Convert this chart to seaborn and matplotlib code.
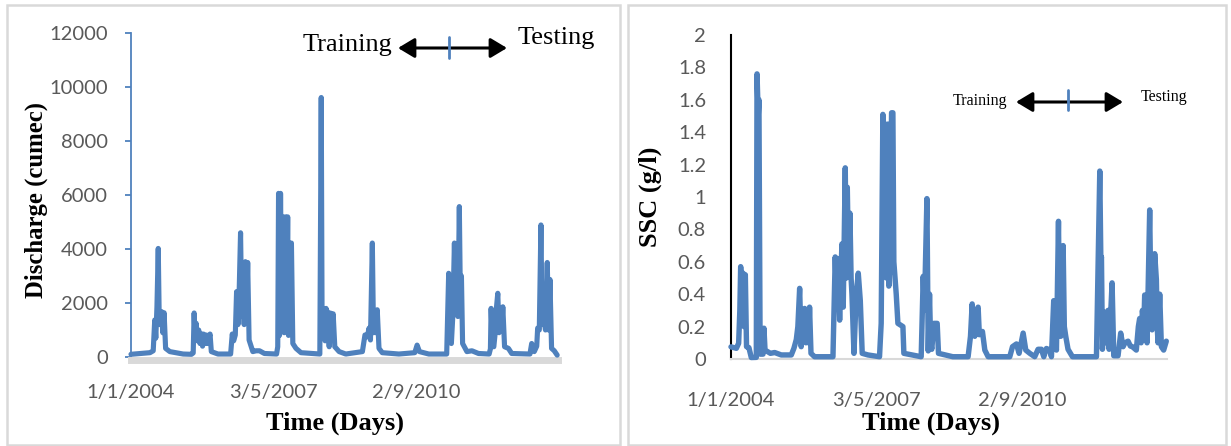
import numpy as np
import pandas as pd
import matplotlib
matplotlib.use("Agg")
import matplotlib.pyplot as plt
import seaborn as sns
from matplotlib.patches import Rectangle, FancyArrowPatch, ArrowStyle
from matplotlib.lines import Line2D

START = pd.Timestamp("2004-01-01")
END = pd.Timestamp("2013-12-31")

# Daily discharge (cumec): day offset from 1 Jan 2004 and value at that day
q_day = [0, 162, 190, 203, 212, 222, 233, 242, 252, 262, 272, 283, 296, 332, 446,
         517, 532, 540, 548, 557, 568, 579, 590, 604, 612, 620, 635, 645, 655, 676,
         687, 744, 852, 866, 878, 892, 903, 915, 925, 937, 947, 957, 968, 978, 988,
         998, 1010, 1042, 1070, 1099, 1141, 1245, 1255, 1262, 1270, 1279, 1288, 1300,
         1310, 1322, 1330, 1340, 1347, 1356, 1364, 1372, 1384, 1411, 1454, 1615, 1627,
         1634, 1648, 1660, 1668, 1682, 1695, 1705, 1716, 1729, 1743, 1780, 1837, 1979,
         2001, 2021, 2036, 2048, 2064, 2074, 2081, 2092, 2106, 2121, 2149, 2291, 2427,
         2447, 2467, 2547, 2700, 2717, 2728, 2740, 2752, 2766, 2776, 2786, 2796, 2808,
         2818, 2826, 2836, 2873, 2916, 2972, 3063, 3074, 3080, 3092, 3103, 3115, 3125,
         3137, 3148, 3160, 3170, 3180, 3195, 3228, 3256, 3412, 3427, 3449, 3470, 3478,
         3492, 3506, 3516, 3530, 3545, 3560, 3572, 3583, 3597, 3620, 3645]
q_val = [100, 160, 230, 1370, 700, 1860, 4020, 1200, 1500, 1680, 900, 1640, 320, 200, 110,
         100, 150, 1630, 700, 1250, 600, 1000, 500, 850, 400, 850, 500, 815, 500, 850,
         200, 110, 110, 850, 600, 815, 2420, 1200, 2400, 4600, 1500, 2800, 1200, 3530, 1500,
         3500, 630, 200, 230, 230, 130, 110, 380, 6060, 800, 6060, 1500, 5190,
         900, 5190, 1200, 5190, 800, 4220, 900, 4220, 500, 320, 160, 110, 9610,
         1500, 1800, 600, 1800, 1630, 380, 1630, 800, 1600, 380, 200, 110, 200,
         815, 750, 1070, 630, 4220, 900, 1370, 900, 1750, 320, 160, 110, 160,
         440, 200, 110, 110, 3100, 600, 500, 1500, 4220, 1800, 2620, 1500, 5570,
         1800, 3000, 500, 200, 230, 130, 110, 300, 1800, 400, 380, 900, 1800,
         2360, 900, 1370, 1000, 1860, 380, 320, 130, 110, 500, 200, 400, 1070,
         1000, 4890, 1200, 1500, 1000, 3500, 1000, 2870, 320, 230, 70]

# Suspended sediment concentration (g/l): day offset from 1 Jan 2004 and value
ssc_day = [0, 45, 64, 74, 81, 92, 101, 109, 120, 130, 150, 170, 212, 218, 228, 234, 244,
           268, 276, 285, 330, 366, 421, 505, 527, 547, 560, 575, 588, 600, 617, 628,
           639, 650, 658, 670, 700, 854, 873, 885, 896, 910, 929, 940, 957, 966, 974,
           984, 996, 1006, 1013, 1030, 1049, 1066, 1083, 1099, 1147, 1244, 1258, 1272,
           1282, 1292, 1302, 1314, 1322, 1331, 1345, 1356, 1364, 1374, 1384, 1398, 1440,
           1448, 1593, 1610, 1620, 1641, 1652, 1663, 1672, 1682, 1699, 1727, 1738, 1858,
           1986, 2006, 2020, 2030, 2042, 2055, 2070, 2080, 2090, 2106, 2126, 2154, 2335,
           2358, 2391, 2413, 2447, 2469, 2503, 2544, 2572, 2600, 2620, 2642, 2670, 2684,
           2703, 2715, 2726, 2743, 2752, 2762, 2772, 2782, 2792, 2804, 2823, 2860, 3061,
           3089, 3098, 3103, 3111, 3125, 3140, 3158, 3167, 3192, 3206, 3242, 3264, 3284,
           3300, 3326, 3345, 3362, 3395, 3412, 3423, 3435, 3446, 3458, 3465, 3485, 3507,
           3518, 3527, 3540, 3549, 3563, 3570, 3577, 3591, 3605, 3624, 3646]
ssc_val = [0.075, 0.066, 0.097, 0.3, 0.57, 0.4, 0.53, 0.2, 0.52, 0.076, 0.07, 0.009, 0.01,
           1.76, 1.5, 1.6, 0.03, 0.03, 0.19, 0.055, 0.035, 0.04, 0.025, 0.025, 0.066, 0.12,
           0.2, 0.436, 0.076, 0.2, 0.312, 0.1, 0.28, 0.1, 0.32, 0.035, 0.014, 0.014, 0.63,
           0.36, 0.62, 0.24, 0.71, 0.32, 1.18, 0.5, 1.06, 0.6, 0.9, 0.5, 0.4, 0.035, 0.4,
           0.53, 0.36, 0.035, 0.025, 0.014, 0.22, 1.51, 0.55, 1.45, 0.5, 1.45, 0.45, 0.6,
           1.52, 1.52, 0.6, 0.5, 0.4, 0.22, 0.2, 0.035, 0.014, 0.51, 0.3, 0.99, 0.05, 0.4,
           0.1, 0.06, 0.22, 0.22, 0.035, 0.014, 0.014, 0.14, 0.34, 0.15, 0.14, 0.3, 0.32,
           0.15, 0.16, 0.17, 0.055, 0.014, 0.014, 0.076, 0.093, 0.035, 0.16, 0.055, 0.035,
           0.014, 0.06, 0.06, 0.014, 0.065, 0.055, 0.014, 0.36, 0.1, 0.055, 0.85, 0.2,
           0.14, 0.5, 0.7, 0.2, 0.14, 0.06, 0.014, 0.014, 1.16, 0.6, 0.63, 0.06, 0.29,
           0.1, 0.3, 0.06, 0.47, 0.02, 0.02, 0.16, 0.076, 0.1, 0.11, 0.08, 0.076, 0.055,
           0.2, 0.25, 0.1, 0.3, 0.2, 0.395, 0.1, 0.92, 0.3, 0.18, 0.4, 0.65, 0.49, 0.2,
           0.1, 0.4, 0.076, 0.055, 0.11]

tick_dates = ["2004-01-01", "2007-05-03", "2010-09-02"]
tick_labels = ["1/1/2004", "3/5/2007", "2/9/2010"]
q_ticks = [0, 2000, 4000, 6000, 8000, 10000, 12000]
ssc_ticks = [0, 0.2, 0.4, 0.6, 0.8, 1.0, 1.2, 1.4, 1.6, 1.8, 2.0]

BLUE = "#4F81BD"
GRAY_TXT = "#595959"
FRAME = "#D9D9D9"
SERIF = "Liberation Serif"
W, H = 1231, 446

sns.set_style("white")
plt.rcParams["font.family"] = ["Lato", "DejaVu Sans"]

fig = plt.figure(figsize=(W / 100, H / 100), dpi=100)


def fx(x):
    return x / W


def fy(y):
    return 1 - y / H


def box(l, t, r, b):
    return [fx(l), fy(b), (r - l) / W, (b - t) / H]


# panel frames
for l, r in [(7, 620), (628, 1226)]:
    fig.add_artist(Rectangle((fx(l), fy(445)), (r - l) / W, (445 - 5) / H,
                             transform=fig.transFigure, fill=False,
                             ec=FRAME, lw=1.8))

axL = fig.add_axes(box(131, 33, 558, 357))
axR = fig.add_axes(box(731, 35, 1167, 359))

dq = pd.DataFrame({"Date": START + pd.to_timedelta(q_day, unit="D"),
                   "Discharge": q_val})
ds = pd.DataFrame({"Date": START + pd.to_timedelta(ssc_day, unit="D"),
                   "SSC": ssc_val})

line_kw = dict(color=BLUE, solid_joinstyle="round", solid_capstyle="round",
               clip_on=False, zorder=3)
sns.lineplot(data=dq, x="Date", y="Discharge", ax=axL, linewidth=3.7, **line_kw)
sns.lineplot(data=ds, x="Date", y="SSC", ax=axR, linewidth=3.9, **line_kw)

xt = pd.to_datetime(tick_dates)
for ax in (axL, axR):
    ax.set_xlim(START, END)
    ax.set_xticks(xt)
    ax.set_xticklabels(tick_labels)
    ax.spines["top"].set_visible(False)
    ax.spines["right"].set_visible(False)
    ax.set_facecolor("none")

axL.set_ylim(0, 12000)
axL.set_yticks(q_ticks)
axL.set_yticklabels([str(v) for v in q_ticks])
axL.spines["left"].set_color(BLUE)
axL.spines["left"].set_linewidth(1.3)
axL.spines["bottom"].set_color(FRAME)
axL.spines["bottom"].set_linewidth(5)
axL.spines["bottom"].set_position(("outward", 2.5))
axL.tick_params(axis="y", left=True, direction="out", length=4.5, width=1.3,
                color=BLUE, labelcolor=GRAY_TXT, labelsize=14.5, pad=12)
axL.tick_params(axis="x", bottom=False, length=0, labelcolor=GRAY_TXT,
                labelsize=14.5, pad=17)

axR.set_ylim(0, 2)
axR.set_yticks(ssc_ticks)
axR.set_yticklabels([f"{v:g}" for v in ssc_ticks])
axR.spines["left"].set_color("black")
axR.spines["left"].set_linewidth(1.5)
axR.spines["bottom"].set_color(FRAME)
axR.spines["bottom"].set_linewidth(1.5)
axR.tick_params(axis="y", left=False, length=0, labelcolor=GRAY_TXT,
                labelsize=14.5, pad=18)
axR.tick_params(axis="x", bottom=False, length=0, labelcolor=GRAY_TXT,
                labelsize=14.5, pad=24)

title_kw = dict(fontfamily=SERIF, fontweight="bold", color="black")
axL.set_xlabel("Time (Days)", fontsize=19, va="center", **title_kw)
axL.xaxis.set_label_coords(0.478, -0.204)
axL.set_ylabel("Discharge (cumec)", fontsize=17.8, va="center", **title_kw)
axL.yaxis.set_label_coords(-0.2225, 0.485)

axR.set_xlabel("Time (Days)", fontsize=19, va="center", **title_kw)
axR.xaxis.set_label_coords(0.459, -0.198)
axR.set_ylabel("SSC (g/l)", fontsize=19, va="center", **title_kw)
axR.yaxis.set_label_coords(-0.186, 0.5)


def split_marker(x_train, x_test, y_train, y_test, a0, a1, ya, xm, ym0, ym1,
                 size, head):
    fig.text(fx(x_train), fy(y_train), "Training", ha="center", va="center",
             fontfamily=SERIF, fontsize=size, color="black")
    fig.text(fx(x_test), fy(y_test), "Testing", ha="center", va="center",
             fontfamily=SERIF, fontsize=size, color="black")
    style = ArrowStyle("<|-|>", head_length=head[0], head_width=head[1])
    fig.add_artist(FancyArrowPatch((fx(a0), fy(ya)), (fx(a1), fy(ya)),
                                   transform=fig.transFigure, arrowstyle=style,
                                   mutation_scale=20, lw=2.2, color="black",
                                   shrinkA=0, shrinkB=0))
    fig.add_artist(Line2D([fx(xm), fx(xm)], [fy(ym0), fy(ym1)],
                          transform=fig.transFigure, color=BLUE, lw=2))


split_marker(347, 556, 45, 38, 398, 507, 48, 449, 37, 58, 19, (0.5, 0.3))
split_marker(980, 1164, 101, 97, 1016, 1123, 102, 1068, 90, 110, 11.5, (0.5, 0.3))

fig.savefig("out.png", dpi=100, facecolor="white")
